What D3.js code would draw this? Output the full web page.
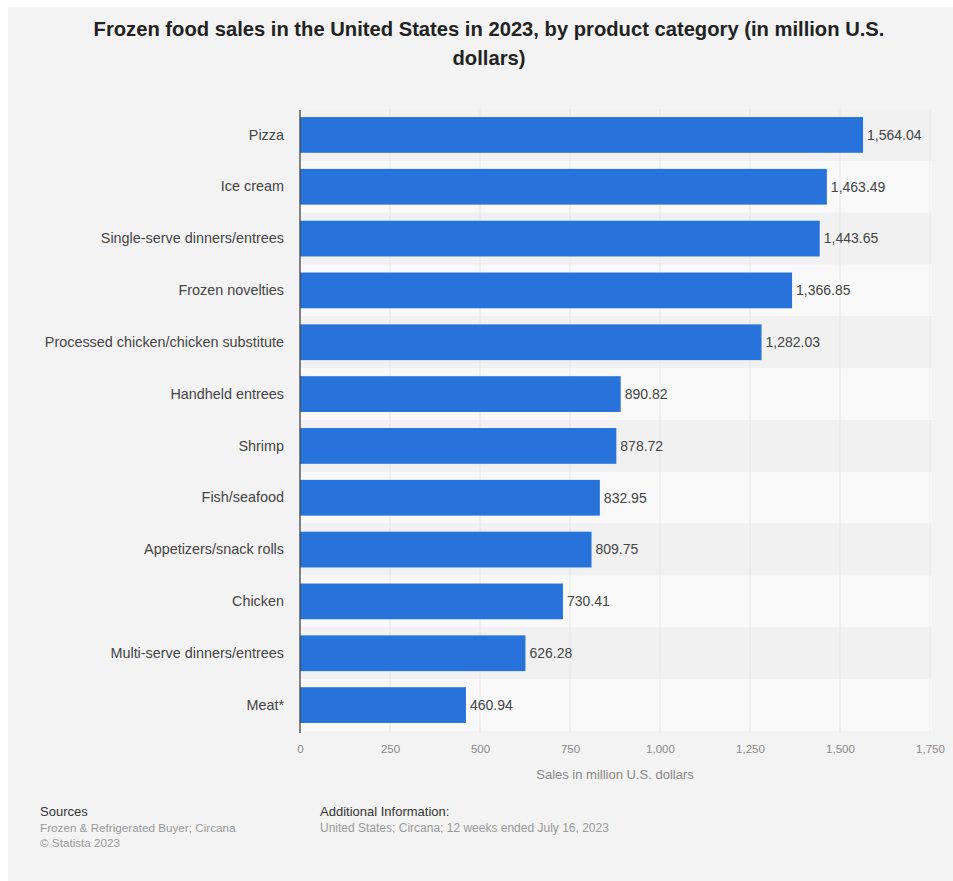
<!DOCTYPE html>
<html>
<head>
<meta charset="utf-8">
<script src="https://cdn.jsdelivr.net/npm/d3@7/dist/d3.min.js"></script>
<style>
  html, body { margin: 0; padding: 0; background: #ffffff; }
  svg { display: block; }
  text { font-family: "Liberation Sans", Arial, Helvetica, sans-serif; }
</style>
</head>
<body>
<svg id="chart" width="953" height="881"></svg>
<script>
// Frozen food sales by product category, US 2023 (million U.S. dollars)
const categories = [
  "Pizza",
  "Ice cream",
  "Single-serve dinners/entrees",
  "Frozen novelties",
  "Processed chicken/chicken substitute",
  "Handheld entrees",
  "Shrimp",
  "Fish/seafood",
  "Appetizers/snack rolls",
  "Chicken",
  "Multi-serve dinners/entrees",
  "Meat*"
];
const sales = [1564.04, 1463.49, 1443.65, 1366.85, 1282.03, 890.82, 878.72, 832.95, 809.75, 730.41, 626.28, 460.94];
const xTicks = [0, 250, 500, 750, 1000, 1250, 1500, 1750];

const titleLines = [
  "Frozen food sales in the United States in 2023, by product category (in million U.S.",
  "dollars)"
];
const axisTitle = "Sales in million U.S. dollars";
const sourceLines = ["Frozen & Refrigerated Buyer; Circana", "\u00A9 Statista 2023"];
const infoLines = ["United States; Circana; 12 weeks ended July 16, 2023"];

const svg = d3.select("#chart");

// page panel
svg.append("rect").attr("x", 8).attr("y", 7).attr("width", 945).attr("height", 874).attr("fill", "#f3f3f3");

// title
const title = svg.append("g");
titleLines.forEach((t, i) => {
  title.append("text")
    .attr("x", 489).attr("y", 36 + i * 29)
    .attr("text-anchor", "middle")
    .attr("font-size", 20.2).attr("font-weight", "bold").attr("fill", "#222")
    .text(t);
});

const plot = { left: 300, right: 930, top: 109, bottom: 731 };

const x = d3.scaleLinear().domain([0, 1750]).range([plot.left, plot.right]);
const y = d3.scaleBand().domain(categories).range([plot.top, plot.bottom]).padding(0);
const barH = y.bandwidth() * 0.69;

// alternating row bands
svg.append("g").selectAll("rect").data(categories).join("rect")
  .attr("x", plot.left)
  .attr("y", d => y(d))
  .attr("width", plot.right - plot.left + 2)
  .attr("height", y.bandwidth())
  .attr("fill", (d, i) => i % 2 === 0 ? "#f1f1f1" : "#f9f9f9");

// vertical gridlines
svg.append("g").selectAll("line").data(xTicks.slice(1)).join("line")
  .attr("x1", d => x(d)).attr("x2", d => x(d))
  .attr("y1", plot.top).attr("y2", plot.bottom + 2)
  .attr("stroke", "#e6e6e6").attr("stroke-width", 1)
  .attr("stroke-dasharray", d => d === 1750 ? "1,1" : null);

// bars
svg.append("g").selectAll("rect").data(sales).join("rect")
  .attr("x", x(0))
  .attr("y", (d, i) => y(categories[i]) + (y.bandwidth() - barH) / 2)
  .attr("width", d => x(d) - x(0))
  .attr("height", barH)
  .attr("fill", "#2873db");

// value labels
const fmt = d3.format(",.2f");
svg.append("g").selectAll("text").data(sales).join("text")
  .attr("x", d => x(d) + 4)
  .attr("y", (d, i) => y(categories[i]) + y.bandwidth() / 2)
  .attr("dy", "0.35em")
  .attr("font-size", 14).attr("fill", "#444")
  .text(d => fmt(d));

// category axis
const yAxis = svg.append("g")
  .attr("transform", `translate(${plot.left},0)`)
  .call(d3.axisLeft(y).tickSize(0).tickPadding(16));
yAxis.select(".domain").attr("stroke", "#444").attr("stroke-width", 1.3)
  .attr("d", `M0,${plot.top + 1}V${plot.bottom + 2}`);
yAxis.selectAll("text").attr("font-size", 14.4).attr("fill", "#444")
  .attr("font-family", "'Liberation Sans', Arial, sans-serif");

// value axis
const xAxis = svg.append("g")
  .attr("transform", `translate(0,${plot.bottom})`)
  .call(d3.axisBottom(x).tickValues(xTicks).tickSize(0).tickPadding(14).tickFormat(d3.format(",")));
xAxis.select(".domain").remove();
xAxis.selectAll("text").attr("font-size", 11.5).attr("fill", "#888")
  .attr("font-family", "'Liberation Sans', Arial, sans-serif");

svg.append("text")
  .attr("x", (plot.left + plot.right) / 2).attr("y", 779)
  .attr("text-anchor", "middle")
  .attr("font-size", 13).attr("fill", "#888")
  .text(axisTitle);

// footer
const foot = svg.append("g");
foot.append("text").attr("x", 40).attr("y", 816).attr("font-size", 13).attr("fill", "#333").text("Sources");
sourceLines.forEach((t, i) => {
  foot.append("text").attr("x", 40).attr("y", 832 + i * 15).attr("font-size", 11.7).attr("fill", "#999").text(t);
});
foot.append("text").attr("x", 320).attr("y", 816).attr("font-size", 13).attr("fill", "#333").text("Additional Information:");
infoLines.forEach((t, i) => {
  foot.append("text").attr("x", 320).attr("y", 832 + i * 15).attr("font-size", 12).attr("fill", "#999").text(t);
});
</script>
</body>
</html>
